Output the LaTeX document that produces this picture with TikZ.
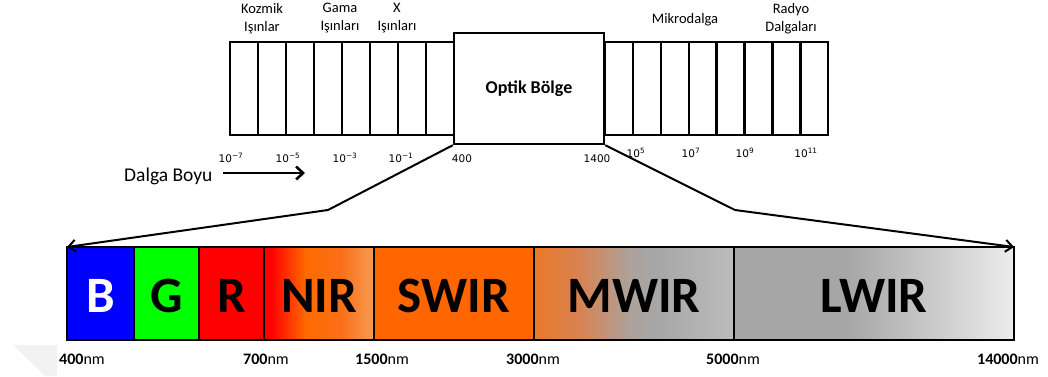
\documentclass[tikz,border=0pt]{standalone}
\usepackage{fontspec}
\setmainfont{Carlito}
\newfontfamily\numfont{DejaVu Sans}
\usetikzlibrary{arrows.meta}
\definecolor{orng}{RGB}{255,102,0}
\definecolor{nirA}{RGB}{255,105,0}
\definecolor{nirB}{RGB}{250,112,25}
\definecolor{nirC}{RGB}{247,150,75}
\definecolor{mwA}{RGB}{236,120,40}
\definecolor{mwB}{RGB}{215,132,85}
\definecolor{mwC}{RGB}{172,162,155}
\definecolor{mwD}{RGB}{166,166,166}
\definecolor{mwE}{RGB}{188,188,188}
\definecolor{lwA}{RGB}{166,166,166}
\definecolor{lwB}{RGB}{236,236,236}
\definecolor{pureG}{RGB}{0,255,0}
\pgfdeclarehorizontalshading{nirshade}{100bp}{color(0bp)=(red); color(25bp)=(red); color(28bp)=(red); color(44bp)=(nirA); color(60bp)=(nirB); color(73bp)=(nirC); color(100bp)=(nirC)}
\pgfdeclarehorizontalshading{mwshade}{100bp}{color(0bp)=(mwA); color(25bp)=(mwA); color(37bp)=(mwB); color(49bp)=(mwC); color(55bp)=(mwD); color(75bp)=(mwE); color(100bp)=(mwE)}
\pgfdeclarehorizontalshading{lwshade}{100bp}{color(0bp)=(lwA); color(25bp)=(lwA); color(45bp)=(lwA); color(75bp)=(lwB); color(100bp)=(lwB)}
\begin{document}
\begin{tikzpicture}[x=1pt,y=-1pt,
  cell/.style={draw,line width=2.4pt,minimum height=93pt,inner sep=0pt,outer sep=0pt},
  seg/.style={draw,line width=1.8pt,minimum height=93pt,inner sep=0pt,outer sep=0pt,
    font=\fontsize{51}{51}\selectfont\bfseries,text height=37pt,text depth=0pt},
  toplab/.style={inner sep=0pt,align=center,font=\fontsize{14.5}{18}\selectfont},
  num/.style={inner sep=0pt,anchor=base,font=\numfont\fontsize{10.5}{12}\selectfont},
  nmlab/.style={inner sep=0pt,anchor=base,font=\fontsize{16}{18}\selectfont},
  conn/.style={line width=2pt,-{Straight Barb[length=7pt,width=12pt,line width=2pt]}},
]
\useasboundingbox (0,0) rectangle (1048,376);
\fill[gray!10] (13,345) -- (57,345) -- (57,376) -- (45,376) -- cycle;
% top strip
\foreach \i in {0,...,7} {
  \node[cell,minimum width=28pt] (cl\i) at ({244+28*\i},88.5) {};
  \node[cell,minimum width=27.9pt] (cr\i) at ({618.95+27.9*\i},88.5) {};
}
\node[draw,fill=white,line width=2.4pt,minimum width=150pt,minimum height=111pt,inner sep=0pt]
  (optik) at (529,88.5) {\fontsize{18}{20}\selectfont\bfseries Optik Bölge};
% top labels
\node[toplab,anchor=north] (koz) at (262,3) {Kozmik\\Işınlar};
\node[toplab,anchor=north] (gama) at (340,3) {Gama\\Işınları};
\node[toplab,anchor=north] (xray) at (397,3) {X\\Işınları};
\node[toplab,anchor=base] (mikro) at (685,23) {Mikrodalga};
\node[toplab,anchor=north] (radyo) at (791,3) {Radyo\\Dalgaları};
% scale numbers
\node[num] (n1) at (231,162) {10\textsuperscript{−7}};
\node[num] (n2) at (288,162) {10\textsuperscript{−5}};
\node[num] (n3) at (345,162) {10\textsuperscript{−3}};
\node[num] (n4) at (401,162) {10\textsuperscript{−1}};
\node[num] (n5) at (462,162) {400};
\node[num] (n6) at (597,162) {1400};
\node[num] (n7) at (636,157) {10\textsuperscript{5}};
\node[num] (n8) at (691,157) {10\textsuperscript{7}};
\node[num] (n9) at (745,157) {10\textsuperscript{9}};
\node[num] (n10) at (806,157) {10\textsuperscript{11}};
% dalga boyu
\node[inner sep=0pt,anchor=base west,font=\fontsize{19.5}{22}\selectfont] (dalga) at (124,181) {Dalga Boyu};
\coordinate (as) at (223,173);
\coordinate (ae) at (305,173);
\draw[line width=2.6pt,-{Straight Barb[length=7pt,width=13pt,line width=2.6pt]}] (as) -- (ae);
% bottom bar
\node[seg,minimum width=67pt,fill=blue,text=white] (sB) at (100.5,293.5) {B};
\node[seg,minimum width=65pt,fill=pureG] (sG) at (166.5,293.5) {G};
\node[seg,minimum width=65pt,fill=red] (sR) at (231.5,293.5) {R};
\node[seg,minimum width=110pt,shade,shading=nirshade] (sN) at (319,293.5) {NIR};
\node[seg,minimum width=160pt,fill=orng] (sS) at (454,293.5) {SWIR};
\node[seg,minimum width=200pt,shade,shading=mwshade] (sM) at (634,293.5) {MWIR};
\node[seg,minimum width=280pt,shade,shading=lwshade] (sL) at (874,293.5) {LWIR};
% connectors
\coordinate (wl) at (328,210);
\coordinate (wr) at (735,210);
\draw[conn] (optik.south west) -- (wl) -- (sB.north west);
\draw[conn] (optik.south east) -- (wr) -- (sL.north east);
% bottom labels
\node[nmlab] (l1) at (82,364) {\textbf{400}nm};
\node[nmlab] (l2) at (266,364) {\textbf{700}nm};
\node[nmlab] (l3) at (382,364) {\textbf{1500}nm};
\node[nmlab] (l4) at (533,364) {\textbf{3000}nm};
\node[nmlab] (l5) at (733,364) {\textbf{5000}nm};
\node[nmlab] (l6) at (1008,364) {\textbf{14000}nm};
\end{tikzpicture}
\end{document}
